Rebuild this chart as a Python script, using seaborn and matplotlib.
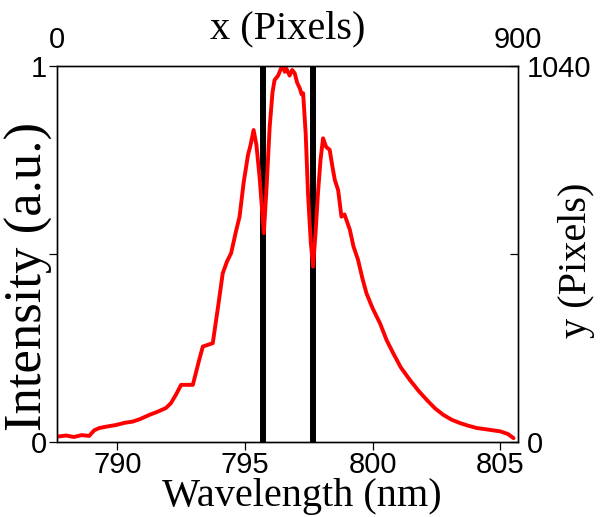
import numpy as np
import pandas as pd
import matplotlib.pyplot as plt
import seaborn as sns

# spectrum (wavelength in nm, normalised intensity)
wavelength = [787.65, 788.0, 788.3, 788.6, 788.9, 789.1, 789.3, 789.6, 789.95, 790.3,
              790.6, 790.9, 791.26, 791.6, 791.9, 792.1, 792.3, 792.5, 792.96, 793.2,
              793.35, 793.74, 793.95, 794.13, 794.3, 794.46, 794.65, 794.79, 794.95, 795.12,
              795.22, 795.34, 795.45, 795.58, 795.74, 795.85, 795.97, 796.08, 796.16, 796.3,
              796.42, 796.49, 796.56, 796.62, 796.75, 796.85, 796.95, 797.05, 797.15, 797.22,
              797.28, 797.38, 797.47, 797.58, 797.67, 797.77, 797.86, 797.96, 798.06, 798.18,
              798.32, 798.42, 798.52, 798.65, 798.78, 798.9, 799.11, 799.25, 799.43, 799.6,
              799.76, 800.0, 800.29, 800.55, 800.81, 801.1, 801.46, 801.8, 802.12, 802.45,
              802.77, 803.1, 803.43, 803.75, 804.08, 804.5, 805.0, 805.3, 805.52]
intensity = [0.013, 0.016, 0.012, 0.017, 0.015, 0.030, 0.036, 0.040, 0.044, 0.050,
             0.053, 0.060, 0.071, 0.080, 0.089, 0.102, 0.125, 0.151, 0.151, 0.215,
             0.253, 0.262, 0.360, 0.448, 0.480, 0.502, 0.560, 0.599, 0.690, 0.763,
             0.790, 0.830, 0.790, 0.700, 0.555, 0.680, 0.839, 0.930, 0.963, 0.975,
             0.995, 1.000, 0.985, 0.994, 0.975, 0.990, 0.981, 0.955, 0.941, 0.925,
             0.928, 0.820, 0.661, 0.530, 0.466, 0.560, 0.661, 0.750, 0.808, 0.785,
             0.777, 0.735, 0.697, 0.670, 0.599, 0.605, 0.564, 0.520, 0.484, 0.435,
             0.395, 0.355, 0.315, 0.270, 0.235, 0.198, 0.164, 0.135, 0.111, 0.088,
             0.071, 0.058, 0.049, 0.042, 0.036, 0.032, 0.027, 0.020, 0.009]

dip_lines = [795.7, 797.66]
wl_ticks = [790, 795, 800, 805]
px_x_ticks = [0, 900]
px_y_ticks = [0, 520, 1040]

sns.set_style('ticks')
plt.rcParams['font.family'] = ['Liberation Sans', 'DejaVu Sans']
for key in ('text.color', 'axes.labelcolor', 'xtick.color', 'ytick.color'):
    plt.rcParams[key] = 'black'
serif = ['Liberation Serif', 'DejaVu Serif']
tick_fs = 21
label_fs = 29

fig, ax = plt.subplots(figsize=(6.11, 5.17), dpi=100)
fig.subplots_adjust(left=0.0933, right=0.848, bottom=0.146, top=0.872)

for xv in dip_lines:
    ax.axvline(xv, color='black', lw=4.3, zorder=2)
sns.lineplot(x=wavelength, y=intensity, color='red', lw=2.8, ax=ax, zorder=3)

ax.set_xlim(787.64, 805.70)
ax.set_ylim(0, 1)
ax.set_xticks(wl_ticks)
ax.set_yticks([0, 0.5, 1], ['0', '', '1'])
ax.tick_params(direction='out', length=6, width=0.9, labelsize=tick_fs, pad=1)
ax.set_xlabel('Wavelength (nm)', family=serif, fontsize=label_fs, va='center')
ax.xaxis.set_label_coords(0.531, -0.147)
ax.set_ylabel('Intensity (a.u.)', family=serif, fontsize=38, va='center')
ax.yaxis.set_label_coords(-0.060, 0.44)

# pixel axes
ax_r = ax.twinx()
ax_r.set_ylim(px_y_ticks[0], px_y_ticks[-1])
ax_r.set_yticks(px_y_ticks, ['0', '', '1040'])
ax_r.tick_params(direction='in', length=6, width=0.9, labelsize=tick_fs, pad=6)
ax_r.set_ylabel('y (Pixels)', family=serif, fontsize=label_fs, va='center')
ax_r.yaxis.set_label_coords(1.126, 0.483)

ax_t = ax.twiny()
ax_t.set_xlim(px_x_ticks[0], px_x_ticks[-1])
ax_t.set_xticks(px_x_ticks)
ax_t.tick_params(length=0, labelsize=tick_fs, pad=9)
ax_t.set_xlabel('x (Pixels)', family=serif, fontsize=label_fs, va='center')
ax_t.xaxis.set_label_coords(0.501, 1.100)

for a in (ax, ax_r, ax_t):
    for s in a.spines.values():
        s.set_linewidth(0.9)
        s.set_color('black')

plt.savefig('out.png', dpi=100)
